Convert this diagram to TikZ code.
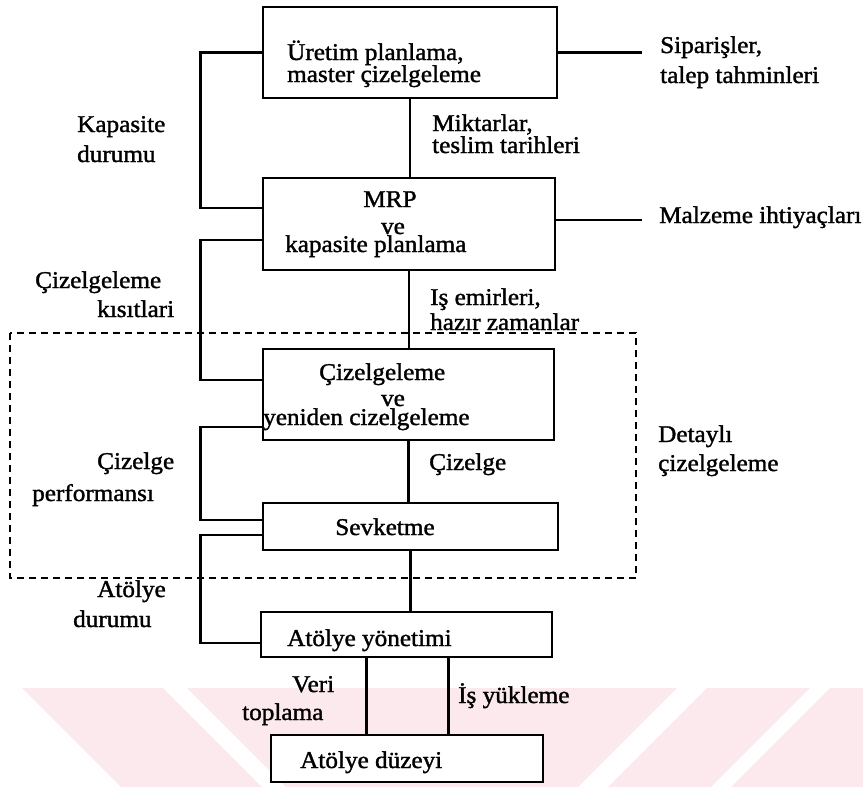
\documentclass[tikz,border=0pt]{standalone}
\usepackage{fontspec}
\setmainfont{Liberation Serif}[FakeStretch=1.05, FakeBold=1.4]
\usetikzlibrary{calc}
\definecolor{wmpink}{RGB}{252,233,237}
\tikzset{
  box/.style={draw, line width=2.7pt, fill=white, inner sep=0pt},
  link/.style={line width=2.6pt, line join=miter},
  stem/.style={line width=2.2pt},
  lbl/.style={inner sep=0pt, anchor=base west, font=\fontsize{24}{24}\selectfont},
  frame/.style={line width=1.3pt, dash pattern=on 7pt off 5pt}
}
\begin{document}
\begin{tikzpicture}[x=1pt, y=-1pt]
\useasboundingbox (0,0) rectangle (863,787);

% pale background bands at the foot of the page
\fill[wmpink] (22,688) -- (163,688) -- (262,787) -- (121,787) -- cycle;
\fill[wmpink] (187,688) -- (677,688) -- (578,787) -- (286,787) -- cycle;
\fill[wmpink] (707,688) -- (810,688) -- (711,787) -- (608,787) -- cycle;
\fill[wmpink] (830,688) -- (863,688) -- (863,787) -- (731,787) -- cycle;

% the detailed scheduling frame
\draw[frame] (10,333) rectangle (636,578);

% process boxes
\node[box, minimum width=294pt, minimum height=91pt] (b1) at (410,52.5) {};
\node[box, minimum width=292pt, minimum height=92pt] (b2) at (409,224) {};
\node[box, minimum width=291pt, minimum height=91pt] (b3) at (408.5,394.5) {};
\node[box, minimum width=295pt, minimum height=47pt] (b4) at (410.5,526.5) {};
\node[box, minimum width=291pt, minimum height=45pt] (b5) at (406.5,634.5) {};
\node[box, minimum width=272pt, minimum height=47pt] (b6) at (407,758.5) {};

% outside inputs and outputs
\coordinate (o1) at (642,52.5);
\coordinate (o2) at (642,220);
\draw[link] (b1.east) -- (o1);
\draw[link] ([yshift=4pt]b2.east) -- (o2);

% downward flow through the centre
\draw[stem] (b1.south) -- (b1.south |- b2.north);
\draw[stem] (b2.south) -- (b2.south |- b3.north);
\draw[stem] (b3.south) -- (b3.south |- b4.north);
\draw[stem] (b4.south) -- (b4.south |- b5.north);
\draw[stem] ([xshift=-40pt]b5.south) -- ([xshift=-40pt]b5.south |- b6.north);
\draw[stem] ([xshift=42pt]b5.south) -- ([xshift=42pt]b5.south |- b6.north);

% feedback loops on the left
\draw[link] (b1.west) -- ++(-61,0) |- ([yshift=16pt]b2.west);
\draw[link] ([yshift=-16pt]b2.west) -- ++(-61,0) |- ([yshift=14.5pt]b3.west);
\draw[link] ([yshift=-32.5pt]b3.west) -- ++(-61,0) |- ([yshift=6.5pt]b4.west);
\draw[link] ([yshift=-8.5pt]b4.west) -- ++(-61,0) |- ([yshift=-8.5pt]b5.west);

% box texts
\node[lbl] (t1a) at (287,60) {Üretim planlama,};
\node[lbl] (t1b) at (287,82) {master çizelgeleme};
\node[lbl, anchor=base] (t2a) at (390,207) {MRP};
\node[lbl, anchor=base] (t2b) at (393,234) {ve};
\node[lbl] (t2c) at (285,252) {kapasite planlama};
\node[lbl] (t3a) at (319,380) {Çizelgeleme};
\node[lbl, anchor=base] (t3b) at (393,406) {ve};
\node[lbl] (t3c) at (263,425) {yeniden cizelgeleme};
\node[lbl, anchor=base] (t4) at (385,535) {Sevketme};
\node[lbl] (t5) at (287,646) {Atölye yönetimi};
\node[lbl] (t6) at (300,768) {Atölye düzeyi};

% connector labels
\node[lbl] (m1) at (432,131) {Miktarlar,};
\node[lbl] (m2) at (432,153) {teslim tarihleri};
\node[lbl] (i1) at (430,305) {Iş emirleri,};
\node[lbl] (i2) at (430,330) {hazır zamanlar};
\node[lbl] (c1) at (429,470) {Çizelge};
\node[lbl] (v1) at (292,692) {Veri};
\node[lbl] (v2) at (242,720) {toplama};
\node[lbl] (y1) at (458,703) {İş yükleme};

% feedback labels
\node[lbl] (k1) at (77,132) {Kapasite};
\node[lbl] (k2) at (77,162) {durumu};
\node[lbl] (s1) at (35,288) {Çizelgeleme};
\node[lbl] (s2) at (97,317) {kısıtlari};
\node[lbl] (p1) at (97,469) {Çizelge};
\node[lbl] (p2) at (32,501) {performansı};
\node[lbl] (a1) at (97,597) {Atölye};
\node[lbl] (a2) at (73,627) {durumu};

% outside labels
\node[lbl] (r1) at (660,53) {Siparişler,};
\node[lbl] (r2) at (660,83) {talep tahminleri};
\node[lbl] (r3) at (659,223) {Malzeme ihtiyaçları};
\node[lbl] (d1) at (658,442) {Detaylı};
\node[lbl] (d2) at (658,471) {çizelgeleme};
\end{tikzpicture}
\end{document}
